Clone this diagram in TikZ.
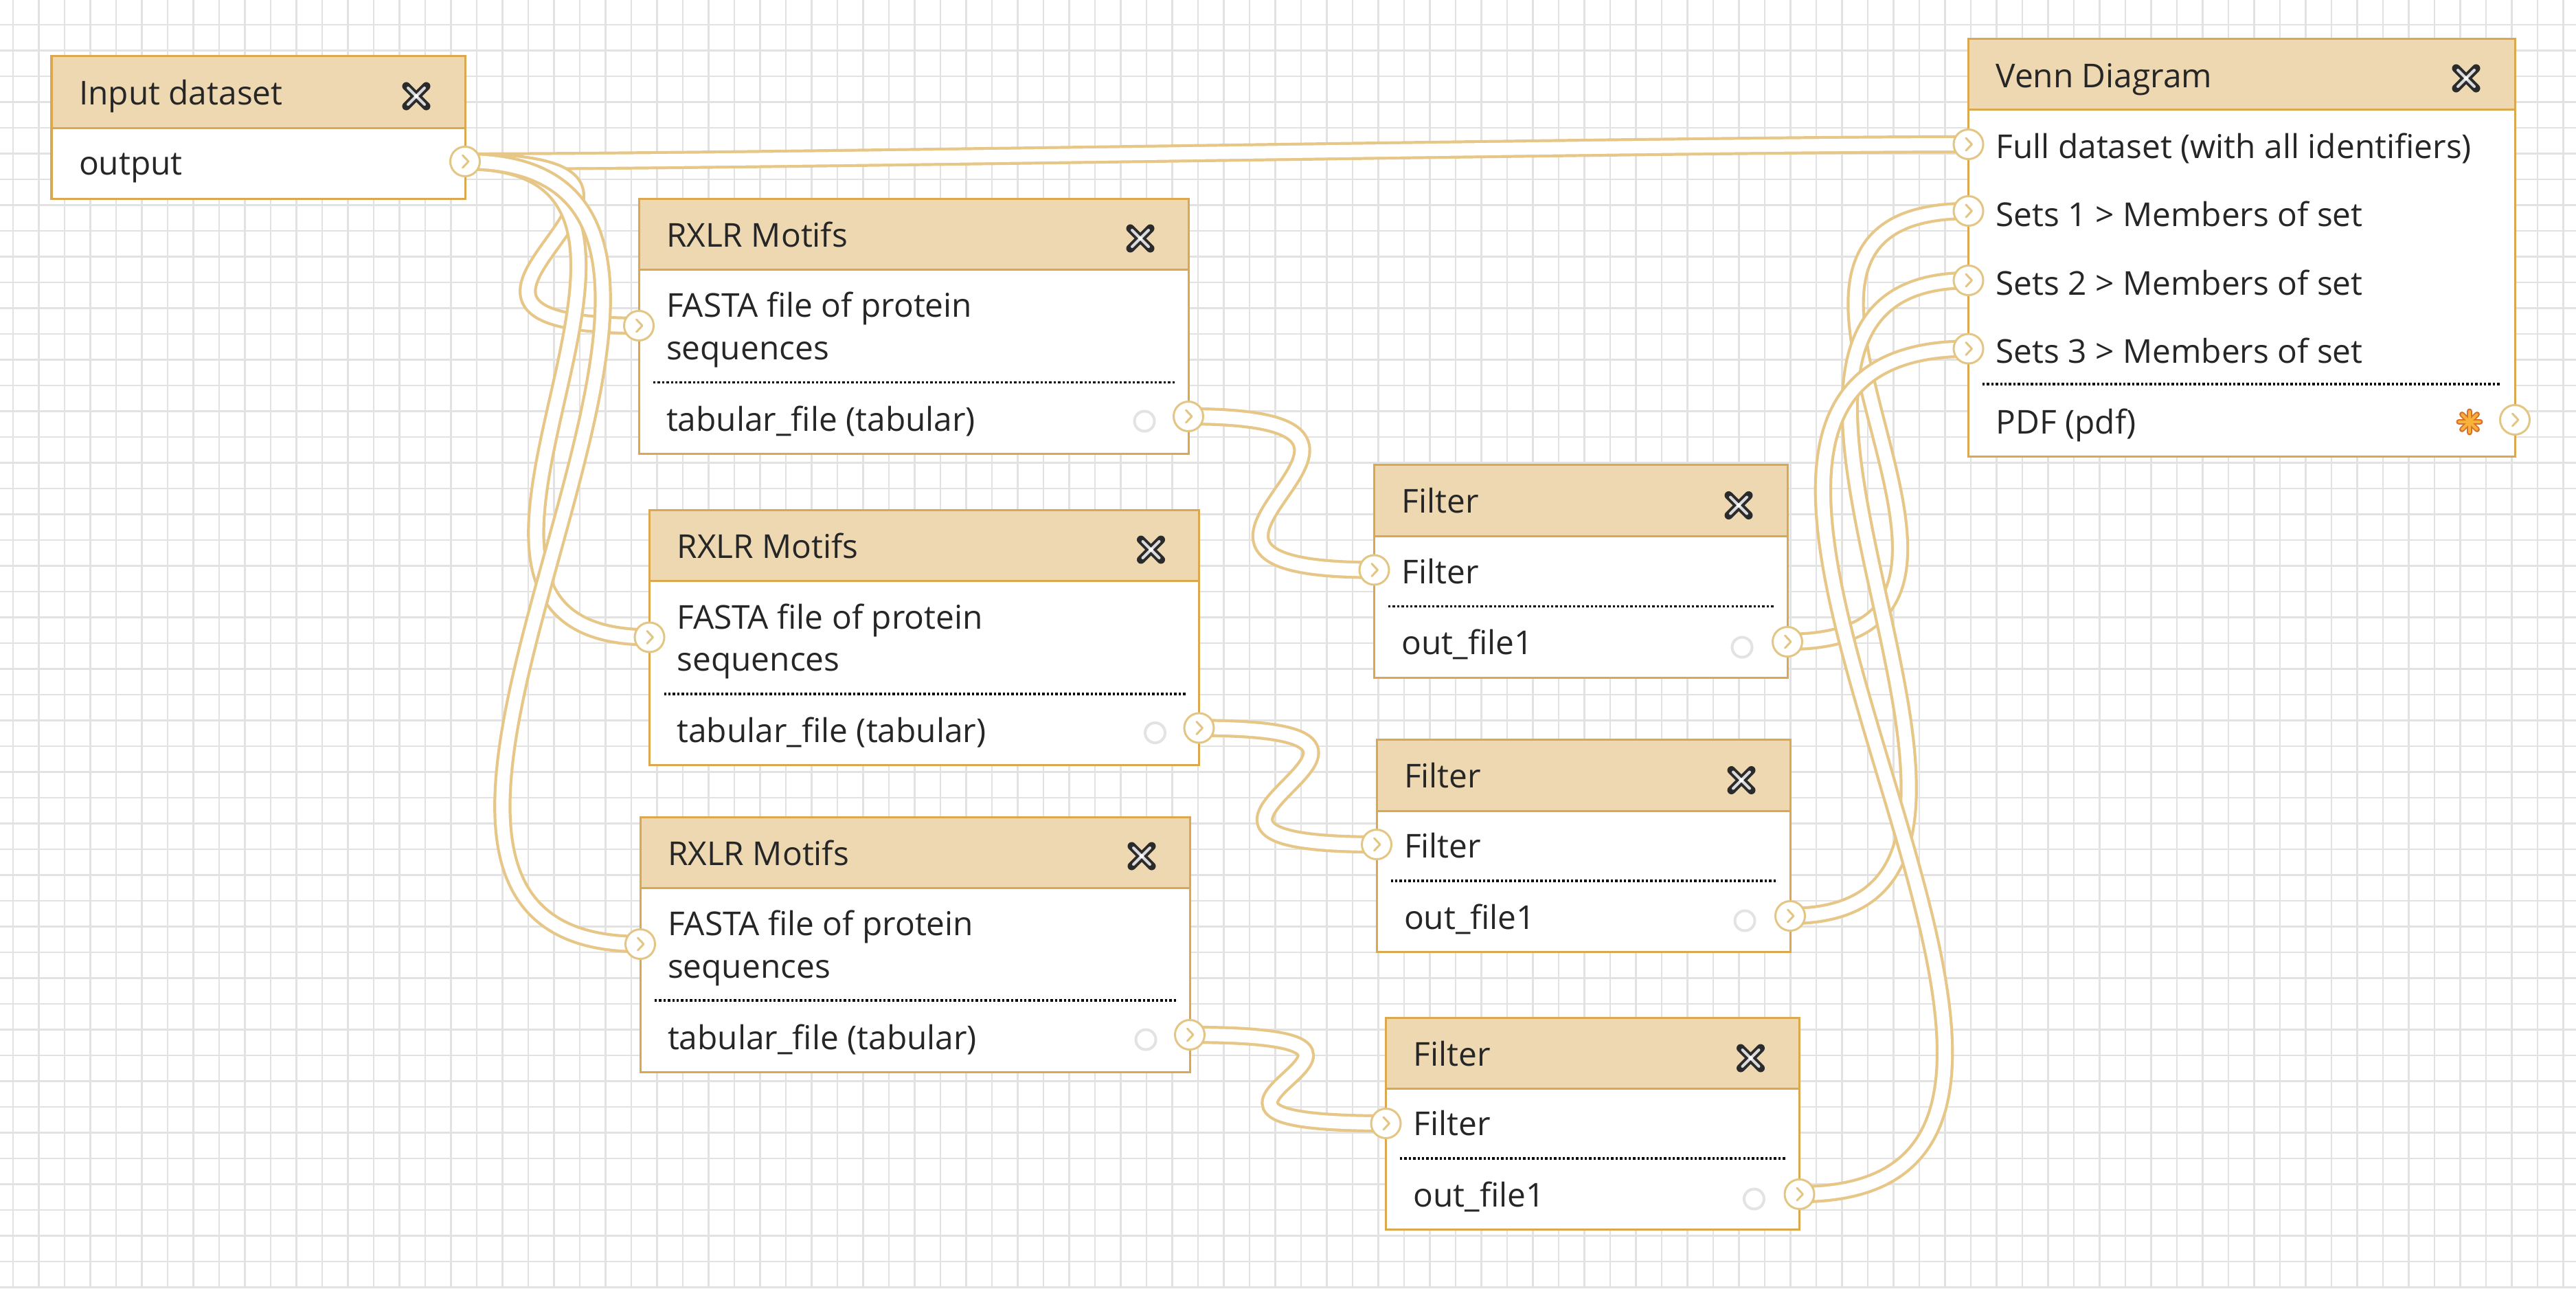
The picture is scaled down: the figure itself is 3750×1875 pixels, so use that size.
\documentclass[tikz,border=0pt]{standalone}
\usepackage{fontspec}
\setmainfont{Open Sans}
\definecolor{gridcol}{HTML}{E2E2E2}
\definecolor{boxborder}{HTML}{DBA84F}
\definecolor{hdrfill}{HTML}{EDD8B1}
\definecolor{portcol}{HTML}{E4C684}
\definecolor{noodlecol}{HTML}{E7C787}
\definecolor{textcol}{HTML}{262626}
\definecolor{xdark}{HTML}{2B2B2B}
\definecolor{xlight}{HTML}{DADADA}
\definecolor{gearcol}{HTML}{E3E3E3}
\definecolor{astout}{HTML}{D9702C}
\definecolor{astin}{HTML}{F7B23A}
\pgfdeclarelayer{gridlayer}
\pgfdeclarelayer{noodlelayer}
\pgfsetlayers{gridlayer,noodlelayer,main}
\tikzset{
  hdr/.style={draw=boxborder, fill=hdrfill, line width=0.3mm, inner sep=0pt, outer sep=0pt, anchor=north west},
  bodyb/.style={draw=boxborder, fill=white, line width=0.3mm, inner sep=0pt, outer sep=0pt, anchor=north west},
  lbl/.style={anchor=base west, inner sep=0pt, outer sep=0pt, text=textcol, font=\fontsize{13.6pt}{17.36pt}\selectfont},
  port/.style={circle, draw=portcol, fill=white, line width=0.3mm, minimum size=4.3mm, inner sep=0pt, outer sep=0pt,
    path picture={\draw[portcol, line width=0.3mm, line cap=round, line join=round]
      ([shift={(-0.35mm,0.9mm)}]path picture bounding box.center) --
      ([shift={(0.5mm,0mm)}]path picture bounding box.center) --
      ([shift={(-0.35mm,-0.9mm)}]path picture bounding box.center);}},
  noodle/.style={draw=noodlecol, line width=0.42mm, double=white, double distance=1.8mm},
  dotsep/.style={draw=black, line width=0.34mm, dash pattern=on 0.34mm off 0.3mm},
  gridl/.style={draw=gridcol, line width=0.27mm},
  closebtn/.style={minimum size=5.4mm, inner sep=0pt, outer sep=0pt,
    path picture={
      \draw[xdark, line width=1.2mm, line cap=round]
        ([shift={(-1.45mm,-1.45mm)}]path picture bounding box.center) -- ([shift={(1.45mm,1.45mm)}]path picture bounding box.center)
        ([shift={(-1.45mm,1.45mm)}]path picture bounding box.center) -- ([shift={(1.45mm,-1.45mm)}]path picture bounding box.center);
      \draw[xlight, line width=0.4mm, line cap=round]
        ([shift={(-1.2mm,-1.2mm)}]path picture bounding box.center) -- ([shift={(1.2mm,1.2mm)}]path picture bounding box.center)
        ([shift={(-1.2mm,1.2mm)}]path picture bounding box.center) -- ([shift={(1.2mm,-1.2mm)}]path picture bounding box.center);
      \fill[white] (path picture bounding box.center) circle (0.3mm);}},
  gearicon/.style={circle, draw=gearcol, line width=0.4mm, minimum size=2.9mm, inner sep=0pt, outer sep=0pt},
  asticon/.style={minimum size=4.4mm, inner sep=0pt, outer sep=0pt,
    path picture={
      \foreach \a in {0,45,90,135}{
        \draw[astout, line width=0.8mm, line cap=round]
          ([shift={(\a:1.55mm)}]path picture bounding box.center) -- ([shift={(\a+180:1.55mm)}]path picture bounding box.center);}
      \foreach \a in {0,45,90,135}{
        \draw[astin, line width=0.4mm, line cap=round]
          ([shift={(\a:1.5mm)}]path picture bounding box.center) -- ([shift={(\a+180:1.5mm)}]path picture bounding box.center);}}},
}
\begin{document}
\begin{tikzpicture}[x=0.01cm, y=-0.01cm]
\useasboundingbox (0,0) rectangle (3750,1875);
\begin{pgfonlayer}{gridlayer}
  \fill[white] (0,0) rectangle (3750,1875);
  \foreach \i in {0,...,99} \draw[gridl] ({19+37.5*\i},0) -- ({19+37.5*\i},1875);
  \foreach \j in {0,...,50} \draw[gridl] (0,{-1.5+37.5*\j}) -- (3750,{-1.5+37.5*\j});
\end{pgfonlayer}

% ---------- Input dataset ----------
\node[bodyb, minimum width=6.02cm, minimum height=1.025cm] (inb) at (75,186.5) {};
\node[hdr, minimum width=6.02cm, minimum height=1.05cm] (inh) at (75,81.5) {};
\node[lbl] (int) at (115,152) {Input dataset};
\node[closebtn] (inx) at (606,140) {};
\node[lbl] (ino) at (115,254) {output};
\node[port] (ipo) at (677,235) {};

% ---------- RXLR Motifs 1 ----------
\node[bodyb, minimum width=8cm, minimum height=2.68cm] (r1b) at (930,392) {};
\node[hdr, minimum width=8cm, minimum height=1.025cm] (r1h) at (930,289.5) {};
\node[lbl] (r1t) at (970,359.5) {RXLR Motifs};
\node[closebtn] (r1x) at (1660,347) {};
\node[lbl, align=left] (r1f) at (970,523) {FASTA file of protein\\sequences};
\draw[dotsep] (951,556.5) -- (1710,556.5);
\node[lbl] (r1o-t) at (970,627) {tabular\_file (tabular)};
\node[gearicon] (r1g) at (1666,613) {};
\node[port] (r1i) at (930,474) {};
\node[port] (r1o) at (1730,606) {};

% ---------- RXLR Motifs 2 ----------
\node[bodyb, minimum width=8cm, minimum height=2.675cm] (r2b) at (945.5,845.5) {};
\node[hdr, minimum width=8cm, minimum height=1.03cm] (r2h) at (945.5,742.5) {};
\node[lbl] (r2t) at (985.5,812.5) {RXLR Motifs};
\node[closebtn] (r2x) at (1675.5,800) {};
\node[lbl, align=left] (r2f) at (985.5,976.5) {FASTA file of protein\\sequences};
\draw[dotsep] (966.5,1010) -- (1725.5,1010);
\node[lbl] (r2o-t) at (985.5,1080.5) {tabular\_file (tabular)};
\node[gearicon] (r2g) at (1681.5,1066.5) {};
\node[port] (r2i) at (945.5,927.5) {};
\node[port] (r2o) at (1745.5,1059.5) {};

% ---------- RXLR Motifs 3 ----------
\node[bodyb, minimum width=8cm, minimum height=2.68cm] (r3b) at (932,1292) {};
\node[hdr, minimum width=8cm, minimum height=1.03cm] (r3h) at (932,1189) {};
\node[lbl] (r3t) at (972,1259) {RXLR Motifs};
\node[closebtn] (r3x) at (1662,1246) {};
\node[lbl, align=left] (r3f) at (972,1423) {FASTA file of protein\\sequences};
\draw[dotsep] (953,1456) -- (1712,1456);
\node[lbl] (r3o-t) at (972,1527) {tabular\_file (tabular)};
\node[gearicon] (r3g) at (1668,1513) {};
\node[port] (r3i) at (932,1374) {};
\node[port] (r3o) at (1732,1506) {};

% ---------- Filter 1 ----------
\node[bodyb, minimum width=6.015cm, minimum height=2.06cm] (f1b) at (2000.5,780.5) {};
\node[hdr, minimum width=6.015cm, minimum height=1.04cm] (f1h) at (2000.5,676.5) {};
\node[lbl] (f1t) at (2040.5,746.5) {Filter};
\node[closebtn] (f1x) at (2531,735.5) {};
\node[lbl] (f1f) at (2040.5,849) {Filter};
\draw[dotsep] (2021,882.5) -- (2582,882.5);
\node[lbl] (f1o-t) at (2040.5,952.5) {out\_file1};
\node[gearicon] (f1g) at (2536,942) {};
\node[port] (f1i) at (2000.5,829.5) {};
\node[port] (f1o) at (2602,934) {};

% ---------- Filter 2 ----------
\node[bodyb, minimum width=6.02cm, minimum height=2.05cm] (f2b) at (2004,1180) {};
\node[hdr, minimum width=6.02cm, minimum height=1.035cm] (f2h) at (2004,1076.5) {};
\node[lbl] (f2t) at (2044,1146.5) {Filter};
\node[closebtn] (f2x) at (2535,1135.5) {};
\node[lbl] (f2f) at (2044,1248.5) {Filter};
\draw[dotsep] (2024.5,1282) -- (2585.5,1282);
\node[lbl] (f2o-t) at (2044,1352) {out\_file1};
\node[gearicon] (f2g) at (2540,1340) {};
\node[port] (f2i) at (2004,1229) {};
\node[port] (f2o) at (2606,1333) {};

% ---------- Filter 3 ----------
\node[bodyb, minimum width=6.02cm, minimum height=2.055cm] (f3b) at (2017.5,1584) {};
\node[hdr, minimum width=6.02cm, minimum height=1.03cm] (f3h) at (2017.5,1481) {};
\node[lbl] (f3t) at (2057.5,1551) {Filter};
\node[closebtn] (f3x) at (2548.5,1540) {};
\node[lbl] (f3f) at (2057.5,1652.5) {Filter};
\draw[dotsep] (2038,1686) -- (2599,1686);
\node[lbl] (f3o-t) at (2057.5,1756) {out\_file1};
\node[gearicon] (f3g) at (2553.5,1745) {};
\node[port] (f3i) at (2017.5,1635) {};
\node[port] (f3o) at (2619.5,1738) {};

% ---------- Venn Diagram ----------
\node[bodyb, minimum width=7.955cm, minimum height=5.045cm] (vb) at (2865.5,159.5) {};
\node[hdr, minimum width=7.955cm, minimum height=1.035cm] (vh) at (2865.5,56) {};
\node[lbl] (vt) at (2905.5,127) {Venn Diagram};
\node[closebtn] (vx) at (3590,114) {};
\node[lbl] (v0t) at (2905.5,230) {Full dataset (with all identifiers)};
\node[lbl] (v1t) at (2905.5,329.5) {Sets 1 > Members of set};
\node[lbl] (v2t) at (2905.5,429) {Sets 2 > Members of set};
\node[lbl] (v3t) at (2905.5,528) {Sets 3 > Members of set};
\draw[dotsep] (2886,559) -- (3641,559);
\node[lbl] (vpt) at (2905.5,631) {PDF (pdf)};
\node[asticon] (vast) at (3595,614) {};
\node[port] (v0) at (2865.5,210) {};
\node[port] (v1) at (2865.5,307) {};
\node[port] (v2) at (2865.5,408) {};
\node[port] (v3) at (2865.5,507.5) {};
\node[port] (vo) at (3661,611) {};

% ---------- connectors ----------
\begin{pgfonlayer}{noodlelayer}
  \draw[noodle] (ipo.center) .. controls +(425,0) and +(-425,0) .. (v0.center);
  \draw[noodle] (ipo.center) .. controls +(425,0) and +(-425,0) .. (r1i.center);
  \draw[noodle] (ipo.center) .. controls +(425,0) and +(-425,0) .. (r2i.center);
  \draw[noodle] (ipo.center) .. controls +(569.5,0) and +(-569.5,0) .. (r3i.center);
  \draw[noodle] (r1o.center) .. controls +(425,0) and +(-425,0) .. (f1i.center);
  \draw[noodle] (r2o.center) .. controls +(425,0) and +(-425,0) .. (f2i.center);
  \draw[noodle] (r3o.center) .. controls +(425,0) and +(-425,0) .. (f3i.center);
  \draw[noodle] (f1o.center) .. controls +(425,0) and +(-425,0) .. (v1.center);
  \draw[noodle] (f2o.center) .. controls +(462,0) and +(-462,0) .. (v2.center);
  \draw[noodle] (f3o.center) .. controls +(615,0) and +(-615,0) .. (v3.center);
\end{pgfonlayer}
\end{tikzpicture}
\end{document}
